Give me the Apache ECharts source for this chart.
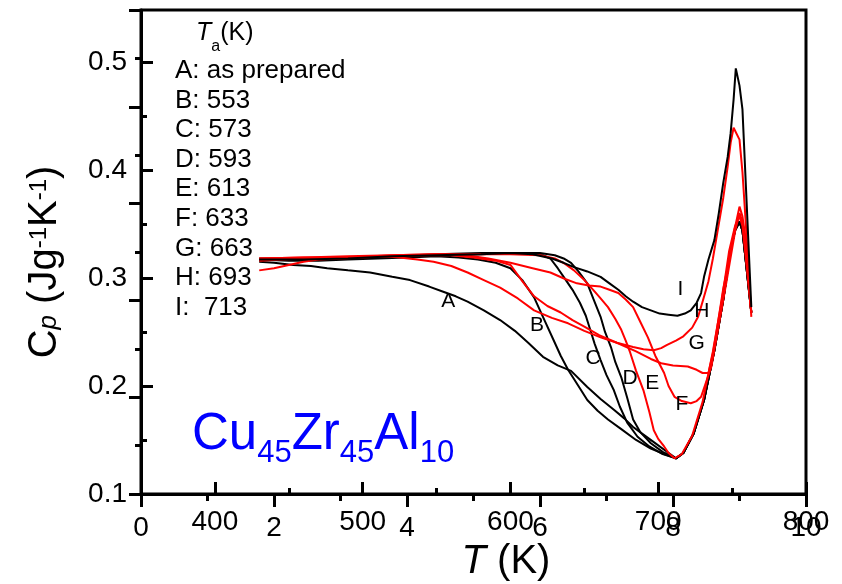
<!DOCTYPE html>
<html>
<head>
<meta charset="utf-8">
<script src="https://cdn.jsdelivr.net/npm/echarts/dist/echarts.min.js"></script>
<style>
  html, body { margin: 0; padding: 0; background: #fff; }
  #chart { width: 842px; height: 584px; }
</style>
</head>
<body>
<div id="chart"></div>
<script>
// Cp(T) curves, [T (K), Cp (J/g/K)]
const curveA = [[430,0.315],[440,0.314],[453,0.312],[465,0.311],[476,0.309],[490,0.307],[505,0.305],[520,0.301],[532,0.298],[545,0.292],[555,0.287],[563,0.283],[571,0.278],[582,0.270],[593,0.261],[603,0.251],[612,0.240],[622,0.227],[632,0.219],[641,0.214],[652,0.199],[661,0.188],[670,0.178],[677,0.170],[683,0.162],[690,0.155],[697,0.148],[705,0.140],[712,0.133],[717,0.138],[724,0.156],[731,0.187],[738,0.233],[744,0.280],[749,0.326],[752,0.344],[755,0.352],[757,0.344],[759,0.319],[763,0.268]]
const curveB = [[430,0.317],[450,0.316],[470,0.316],[490,0.317],[510,0.318],[530,0.319],[550,0.320],[565,0.319],[578,0.317],[590,0.314],[600,0.309],[608,0.298],[616,0.282],[622,0.264],[629,0.243],[634,0.228],[639,0.215],[646,0.200],[652,0.187],[659,0.177],[666,0.169],[675,0.160],[685,0.150],[695,0.142],[704,0.137],[712,0.133],[717,0.138],[724,0.156],[731,0.187],[738,0.233],[744,0.280],[749,0.326],[752,0.344],[755,0.352],[757,0.344],[759,0.319],[763,0.268]]
const curveC = [[430,0.317],[460,0.318],[490,0.318],[520,0.320],[550,0.321],[580,0.322],[600,0.323],[615,0.322],[622,0.321],[627,0.318],[632,0.309],[636,0.301],[642,0.289],[647,0.277],[651,0.265],[654,0.252],[657,0.239],[661,0.224],[665,0.210],[670,0.196],[674,0.181],[679,0.166],[686,0.153],[694,0.144],[703,0.137],[712,0.133],[717,0.138],[724,0.156],[731,0.187],[738,0.233],[744,0.280],[749,0.326],[752,0.344],[755,0.352],[757,0.344],[759,0.319],[763,0.268]]
const curveD = [[430,0.318],[460,0.318],[490,0.319],[520,0.320],[550,0.322],[580,0.323],[600,0.323],[620,0.323],[630,0.321],[636,0.318],[641,0.314],[646,0.306],[652,0.295],[656,0.281],[661,0.264],[664,0.250],[668,0.236],[671,0.222],[675,0.208],[679,0.189],[683,0.169],[688,0.157],[695,0.147],[703,0.139],[712,0.133],[717,0.138],[724,0.156],[731,0.187],[738,0.233],[744,0.280],[749,0.326],[752,0.344],[755,0.352],[757,0.344],[759,0.319],[763,0.268]]
const curveE = [[430,0.318],[460,0.319],[490,0.319],[520,0.321],[550,0.322],[580,0.322],[600,0.322],[620,0.321],[630,0.318],[637,0.313],[643,0.307],[650,0.298],[656,0.289],[661,0.281],[666,0.273],[671,0.262],[675,0.252],[678,0.242],[681,0.231],[685,0.214],[690,0.196],[694,0.176],[697,0.159],[700,0.151],[704,0.144],[707,0.138],[711,0.133],[716,0.137],[723,0.154],[730,0.185],[737,0.232],[743,0.279],[748,0.325],[752,0.348],[755,0.357],[757,0.348],[759,0.322],[763,0.268]]
const curveF = [[430,0.318],[460,0.319],[490,0.320],[520,0.321],[550,0.322],[570,0.321],[585,0.318],[600,0.314],[615,0.309],[627,0.305],[637,0.299],[645,0.295],[653,0.293],[661,0.292],[667,0.289],[673,0.286],[678,0.280],[683,0.273],[688,0.259],[693,0.245],[698,0.228],[704,0.212],[707,0.200],[711,0.190],[716,0.186],[722,0.184],[726,0.186],[729,0.190],[732,0.202],[736,0.218],[742,0.264],[746,0.295],[749,0.319],[752,0.343],[755,0.360],[757,0.352],[759,0.328],[763,0.268]]
const curveG = [[430,0.316],[460,0.318],[490,0.319],[520,0.320],[545,0.321],[560,0.321],[575,0.319],[590,0.316],[600,0.312],[608,0.297],[616,0.283],[625,0.274],[634,0.268],[642,0.261],[650,0.255],[660,0.247],[672,0.240],[685,0.232],[695,0.225],[702,0.221],[710,0.219],[720,0.218],[726,0.215],[730,0.212],[734,0.212],[737,0.230],[740,0.255],[744,0.290],[747,0.310],[750,0.332],[752,0.347],[755,0.366],[757,0.357],[759,0.338],[763,0.268]]
const curveH = [[430,0.307],[440,0.309],[450,0.312],[460,0.315],[470,0.317],[485,0.318],[500,0.319],[515,0.320],[525,0.319],[537,0.317],[548,0.315],[560,0.311],[571,0.305],[582,0.298],[593,0.291],[605,0.281],[616,0.270],[628,0.263],[639,0.258],[650,0.251],[661,0.245],[672,0.240],[683,0.236],[690,0.234],[697,0.233],[702,0.235],[706,0.238],[712,0.242],[717,0.246],[723,0.254],[727,0.264],[730,0.278],[734,0.297],[737,0.318],[740,0.342],[744,0.374],[747,0.403],[749,0.425],[751,0.439],[752,0.440],[755,0.428],[757,0.398],[759,0.356],[761,0.310],[763,0.264]]
const curveI = [[430,0.317],[460,0.317],[490,0.318],[520,0.320],[550,0.321],[580,0.322],[600,0.323],[615,0.322],[628,0.318],[636,0.314],[643,0.310],[652,0.306],[661,0.301],[667,0.295],[673,0.289],[678,0.283],[683,0.278],[689,0.273],[695,0.270],[701,0.267],[707,0.266],[713,0.265],[718,0.267],[722,0.270],[726,0.277],[729,0.286],[731,0.301],[734,0.317],[738,0.335],[741,0.360],[744,0.388],[747,0.412],[749,0.434],[751,0.465],[752.5,0.494],[755,0.478],[757,0.456],[763,0.273]]

const curveNames = ['A','B','C','D','E','F','G','H','I']
const curveColors = ['#000','#000','#000','#000','#ff0000','#ff0000','#ff0000','#ff0000','#000']
const curves = [curveA, curveB, curveC, curveD, curveE, curveF, curveG, curveH, curveI]

// letter labels next to the curves
const labelPos = [[558,0.278],[618,0.256],[656,0.226],[681,0.207],[696,0.203],[716,0.183],[726,0.240],[729.5,0.269],[715,0.290]]

const legendLines = ['A: as prepared','B: 553','C: 573','D: 593','E: 613','F: 633','G: 663','H: 693','I:  713']

// tick values
const tTicks = [400, 500, 600, 700, 800]
const tMinorTicks = [450, 550, 650, 750]
const cpTicks = [0.1, 0.2, 0.3, 0.4, 0.5]
const cpMinorTicks = [0.15, 0.25, 0.35, 0.45]

const font = 'Liberation Sans'
const black = '#000'
const lineW = 3

let myChart = echarts.init(document.getElementById('chart'))

let series = curves.map((c, i) => ({
  name: curveNames[i],
  type: 'line',
  xAxisIndex: 1,
  yAxisIndex: 0,
  data: c,
  symbol: 'none',
  lineStyle: { color: curveColors[i], width: 2 },
  z: 3
}))

series.push({
  type: 'scatter',
  xAxisIndex: 1,
  yAxisIndex: 0,
  symbolSize: 0,
  itemStyle: { opacity: 1 },
  data: labelPos.map((p, i) => ({ name: curveNames[i], value: p })),
  label: {
    show: true,
    position: 'inside',
    formatter: '{b}',
    fontFamily: font,
    fontSize: 21,
    color: black,
    opacity: 1
  },
  z: 4
})

let option = {
  animation: false,
  backgroundColor: '#fff',
  grid: {
    left: 141, right: 36, top: 10, bottom: 90,
    show: true,
    borderColor: black,
    borderWidth: lineW,
    containLabel: false,
    outerBoundsMode: 'none'
  },
  xAxis: [
    {
      type: 'value', min: 0, max: 10, interval: 2, position: 'bottom',
      axisLine: { show: true, onZero: false, lineStyle: { color: black, width: lineW } },
      axisTick: { show: true, inside: false, length: 13, lineStyle: { color: black, width: lineW } },
      minorTick: { show: true, splitNumber: 2, length: 7, lineStyle: { color: black, width: lineW } },
      axisLabel: { margin: 20, fontFamily: font, fontSize: 28, color: black },
      splitLine: { show: false }
    },
    {
      type: 'value', min: 350, max: 800, position: 'bottom',
      axisLine: { show: false, onZero: false },
      axisTick: { show: true, inside: true, length: 12, customValues: tTicks, lineStyle: { color: black, width: lineW } },
      axisLabel: { margin: 14, customValues: tTicks, fontFamily: font, fontSize: 28, color: black },
      splitLine: { show: false }
    },
    {
      type: 'value', min: 350, max: 800, position: 'bottom',
      axisLine: { show: false, onZero: false },
      axisTick: { show: true, inside: true, length: 6, customValues: tMinorTicks, lineStyle: { color: black, width: lineW } },
      axisLabel: { show: false },
      splitLine: { show: false }
    }
  ],
  yAxis: [
    {
      type: 'value', min: 0.1, max: 0.548, position: 'left',
      axisLine: { show: true, onZero: false, lineStyle: { color: black, width: lineW } },
      axisTick: { show: true, inside: true, length: 12, customValues: cpTicks, lineStyle: { color: black, width: lineW } },
      axisLabel: {
        margin: 14, customValues: cpTicks, fontFamily: font, fontSize: 28, color: black,
        formatter: v => v.toFixed(1)
      },
      splitLine: { show: false }
    },
    {
      type: 'value', min: 0.1, max: 0.548, position: 'left',
      axisLine: { show: false, onZero: false },
      axisTick: { show: true, inside: true, length: 6, customValues: cpMinorTicks, lineStyle: { color: black, width: lineW } },
      axisLabel: { show: false },
      splitLine: { show: false }
    },
    {
      type: 'value', min: 0, max: 10, interval: 2, position: 'left',
      axisLine: { show: false, onZero: false },
      axisTick: { show: true, inside: false, length: 12, lineStyle: { color: black, width: lineW } },
      minorTick: { show: true, splitNumber: 2, length: 6, lineStyle: { color: black, width: lineW } },
      axisLabel: { show: false },
      splitLine: { show: false }
    }
  ],
  graphic: [
    {
      type: 'text', x: 45, y: 262, rotation: Math.PI / 2,
      style: {
        text: '{m|C}{p|p}{m| (Jg}{sup|-1}{m|K}{sup|-1}{m|)}',
        align: 'center', verticalAlign: 'middle',
        rich: {
          m: { fontFamily: font, fontSize: 40, lineHeight: 40, fill: black },
          p: { fontFamily: font, fontSize: 26, fontStyle: 'italic', lineHeight: 40, padding: [8, 0, 0, 0], fill: black },
          sup: { fontFamily: font, fontSize: 24, lineHeight: 40, padding: [0, 0, 12, 0], fill: black }
        }
      }
    },
    {
      type: 'text', x: 506, y: 562,
      style: {
        text: '{it|T}{m| (K)}',
        align: 'center', verticalAlign: 'middle',
        rich: {
          it: { fontFamily: font, fontSize: 40, fontStyle: 'italic', fill: black },
          m: { fontFamily: font, fontSize: 40, fill: black }
        }
      }
    },
    {
      type: 'text', x: 196, y: 33,
      style: {
        text: '{it|T}{s|a}{m|(K)}',
        align: 'left', verticalAlign: 'middle',
        rich: {
          it: { fontFamily: font, fontSize: 25, fontStyle: 'italic', lineHeight: 26, fill: black },
          s: { fontFamily: font, fontSize: 16, lineHeight: 26, padding: [27, 0, 0, 0], fill: black },
          m: { fontFamily: font, fontSize: 25, lineHeight: 26, fill: black }
        }
      }
    },
    {
      type: 'text', x: 175, y: 56,
      style: {
        text: legendLines.join('\n'),
        fontFamily: font, fontSize: 26, lineHeight: 29.6,
        align: 'left', verticalAlign: 'top', fill: black
      }
    },
    {
      type: 'text', x: 192, y: 435,
      style: {
        text: '{m|Cu}{s|45}{m|Zr}{s|45}{m|Al}{s|10}',
        align: 'left', verticalAlign: 'middle',
        rich: {
          m: { fontFamily: font, fontSize: 51, lineHeight: 51, fill: '#0000ff' },
          s: { fontFamily: font, fontSize: 31, lineHeight: 51, padding: [36, 0, 0, 0], fill: '#0000ff' }
        }
      }
    }
  ],
  series: series
}

myChart.setOption(option)
</script>
</body>
</html>
